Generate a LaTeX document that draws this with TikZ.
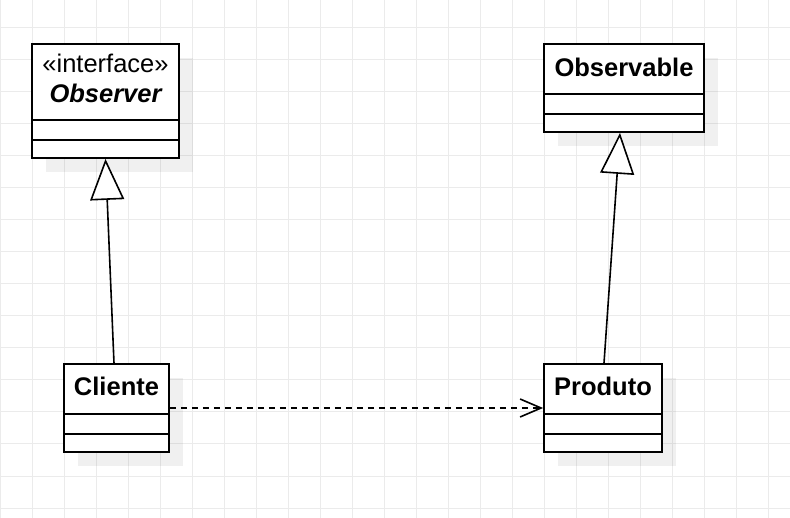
\documentclass[tikz,border=0pt]{standalone}
\usepackage{fontspec}
\setmainfont{Liberation Sans}
\usetikzlibrary{arrows.meta,shadows}
\definecolor{gridc}{HTML}{EBEBEB}
\tikzset{
  umlbox/.style={draw, line width=1.8pt, fill=white, inner sep=0pt,
    drop shadow={shadow xshift=14pt, shadow yshift=-14pt, fill=black, opacity=0.06}},
  divider/.style={line width=1.8pt},
  clstext/.style={anchor=base, inner sep=0pt, font=\fontsize{25.5}{30}\selectfont},
  gen/.style={line width=1.6pt, -{Triangle[length=41pt,width=34pt,fill=white]}},
  dep/.style={line width=1.6pt, dash pattern=on 6pt off 5pt, -{Straight Barb[length=21pt,width=18pt]}},
}
\begin{document}
\begin{tikzpicture}[x=1pt,y=-1pt]
\useasboundingbox (0,0) rectangle (790,518);
\fill[white] (0,0) rectangle (790,518);
\foreach \gx in {0,32,...,790} \draw[gridc, line width=1pt] (\gx,0) -- (\gx,518);
\foreach \gy in {28,60,...,518} \draw[gridc, line width=1pt] (0,\gy) -- (790,\gy);

% Observer
\node[umlbox, minimum width=147pt, minimum height=114pt] (observer) at (105.5,101) {};
\draw[divider] (observer.west |- 0,120) -- (observer.east |- 0,120);
\draw[divider] (observer.west |- 0,140) -- (observer.east |- 0,140);
\node[clstext] (observer-st) at (105.5,72.7) {«interface»};
\node[clstext] (observer-name) at (105.5,102.7) {\bfseries\itshape Observer};

% Observable
\node[umlbox, minimum width=160pt, minimum height=88pt] (observable) at (624,88) {};
\draw[divider] (observable.west |- 0,94) -- (observable.east |- 0,94);
\draw[divider] (observable.west |- 0,114) -- (observable.east |- 0,114);
\node[clstext] (observable-name) at (624,76.7) {\bfseries Observable};

% Cliente
\node[umlbox, minimum width=105pt, minimum height=88pt] (cliente) at (116.5,408) {};
\draw[divider] (cliente.west |- 0,414) -- (cliente.east |- 0,414);
\draw[divider] (cliente.west |- 0,434) -- (cliente.east |- 0,434);
\node[clstext] (cliente-name) at (116.5,396) {\bfseries Cliente};

% Produto
\node[umlbox, minimum width=118pt, minimum height=88pt] (produto) at (603,408) {};
\draw[divider] (produto.west |- 0,414) -- (produto.east |- 0,414);
\draw[divider] (produto.west |- 0,434) -- (produto.east |- 0,434);
\node[clstext] (produto-name) at (603,396) {\bfseries Produto};

% connectors
\draw[gen] ([xshift=-2.5pt]cliente.north) -- (observer.south);
\draw[gen] ([xshift=1pt]produto.north) -- ([xshift=-4pt]observable.south);
\draw[dep] (cliente.east) -- (produto.west);
\end{tikzpicture}
\end{document}
